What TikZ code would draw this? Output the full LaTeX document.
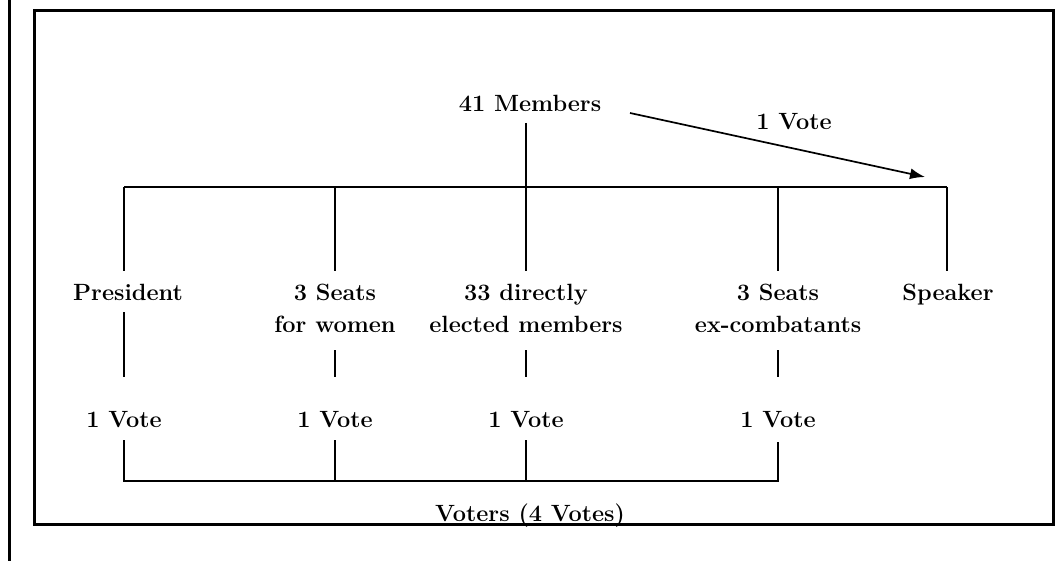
\documentclass[tikz,border=0pt]{standalone}
\usetikzlibrary{arrows.meta}
\begin{document}
\begin{tikzpicture}[x=1pt,y=-1pt,
  lbl/.style={font=\fontsize{23.5}{32}\selectfont\bfseries, inner sep=0pt, align=center, anchor=base},
  conn/.style={line width=1.3pt},
  frame/.style={line width=3pt},
  arr/.style={line width=1.7pt,-{Latex[length=15pt,width=11pt]}}]
\useasboundingbox (0,0) rectangle (1064,561);
% frame
\draw[frame] (9,0) -- (9,561);
\draw[frame] (34,11) rectangle (1053,524);
% labels
\node[lbl] (members) at (530,112) {41 Members};
\node[lbl] (arrvote) at (794,130) {1 Vote};
\node[lbl] (pres) at (128,300) {President};
\node[lbl] (women) at (335,332) {3 Seats\\for women};
\node[lbl] (direct) at (526,332) {33 directly\\elected members};
\node[lbl] (excomb) at (778,332) {3 Seats\\ex-combatants};
\node[lbl] (speaker) at (948,300) {Speaker};
\node[lbl] (v1) at (124,427) {1 Vote};
\node[lbl] (v2) at (335,427) {1 Vote};
\node[lbl] (v3) at (526,427) {1 Vote};
\node[lbl] (v4) at (778,427) {1 Vote};
\node[lbl] (voters) at (530,521) {Voters (4 Votes)};
% junction coordinates
\coordinate (mtop) at (526,123);
\coordinate (bar1) at (124,187);
\coordinate (bar2) at (335,187);
\coordinate (bar3) at (526,187);
\coordinate (bar4) at (778,187);
\coordinate (bar5) at (947,187);
\coordinate (tip) at (925,177);
\coordinate (astart) at (630,113);
% arrow to speaker
\draw[arr] (astart) -- (tip);
% top tree
\draw[conn] (mtop) -- (bar3);
\draw[conn] (bar1) -- (bar5);
\draw[conn] (bar1) -- (124,271);
\draw[conn] (bar2) -- (335,271);
\draw[conn] (bar3) -- (526,271);
\draw[conn] (bar4) -- (778,271);
\draw[conn] (bar5) -- (947,271);
% middle segments
\draw[conn] (124,312) -- (124,377);
\draw[conn] (335,350) -- (335,377);
\draw[conn] (526,350) -- (526,377);
\draw[conn] (778,350) -- (778,377);
% bottom tree
\coordinate (b1) at (124,481);
\coordinate (b2) at (335,481);
\coordinate (b3) at (526,481);
\coordinate (b4) at (778,481);
\draw[conn] (124,440) -- (b1) -- (b4) -- (778,442);
\draw[conn] (335,440) -- (b2);
\draw[conn] (526,440) -- (b3);
\end{tikzpicture}
\end{document}
